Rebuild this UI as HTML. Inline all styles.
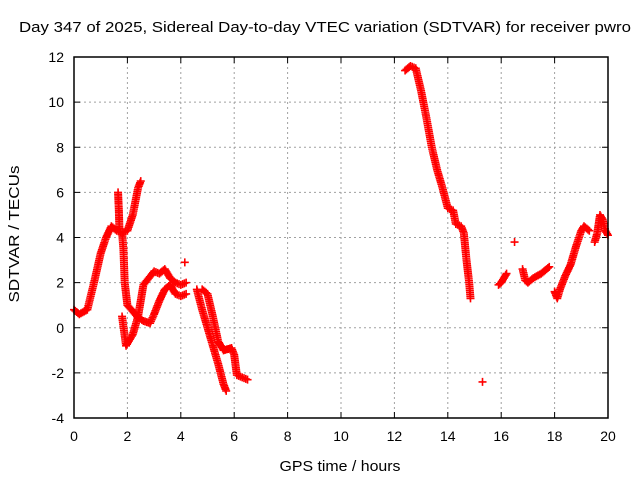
<!DOCTYPE html>
<html><head><meta charset="utf-8"><style>
body{margin:0;background:#fff;}
svg{display:block;font-family:"Liberation Sans",sans-serif;}
</style></head><body>
<svg id="chart" width="640" height="480">
<text x="325" y="32" text-anchor="middle" font-size="15" textLength="612" lengthAdjust="spacingAndGlyphs">Day 347 of 2025, Sidereal Day-to-day VTEC variation (SDTVAR) for receiver pwro</text>
<text x="340" y="471" text-anchor="middle" font-size="15" textLength="121" lengthAdjust="spacingAndGlyphs">GPS time / hours</text>
<text transform="translate(19,234) rotate(-90)" text-anchor="middle" font-size="15" textLength="137" lengthAdjust="spacingAndGlyphs">SDTVAR / TECUs</text>
<g id="grid"></g><g id="marks"></g>
<rect x="74" y="57" width="534" height="361" fill="none" stroke="#000" stroke-width="1.5"/>
</svg>
<script>
const xTicks=[0,2,4,6,8,10,12,14,16,18,20];
const yTicks=[-4,-2,0,2,4,6,8,10,12];
const s1x=[0,0.2,0.5,0.75,1.0,1.2,1.4,1.6,1.8,2.0,2.2,2.4,2.5];
const s1y=[0.8,0.6,0.8,2.0,3.3,4.0,4.5,4.3,4.2,4.3,5.0,6.2,6.5];
const s2x=[1.65,1.68,1.7];
const s2y=[6.0,5.2,4.4];
const s3x=[1.8,1.85,1.9,2.0,2.15,2.36,2.6,2.85,3.0,3.2,3.4,3.6,3.8,4.0,4.2];
const s3y=[4.2,3.5,2.0,1.0,0.8,0.5,0.3,0.2,0.6,1.2,1.7,1.9,1.5,1.4,1.5];
const s4x=[1.8,1.95,2.2,2.4,2.6,2.8,3.0,3.2,3.4,3.6,3.8,4.0,4.2];
const s4y=[0.5,-0.8,-0.3,0.5,1.9,2.2,2.5,2.4,2.6,2.2,2.0,1.9,2.0];
const s5x=[4.15];const s5y=[2.9];
const s6x=[4.6,4.8,5.0,5.2,5.4,5.6,5.7];
const s6y=[1.7,0.8,0.0,-0.8,-1.6,-2.5,-2.8];
const s7x=[4.8,5.0,5.2,5.4,5.6,5.9,6.0,6.1,6.3,6.5];
const s7y=[1.7,1.5,0.5,-0.6,-1.0,-0.9,-1.2,-2.1,-2.2,-2.3];
const s8x=[12.4,12.6,12.8,13.0,13.2,13.4,13.6,13.8,14.0,14.2,14.3,14.5,14.6,14.7,14.8,14.85];
const s8y=[11.4,11.6,11.5,10.5,9.3,8.0,7.0,6.2,5.3,5.2,4.6,4.5,4.2,3.0,2.0,1.3];
const s9x=[15.3];const s9y=[-2.4];
const s10x=[15.9,16.0,16.2];const s10y=[1.9,2.0,2.4];
const s11x=[16.5];const s11y=[3.8];
const s12x=[16.8,16.9,17.0,17.2,17.5,17.8];const s12y=[2.6,2.1,2.0,2.2,2.4,2.7];
const s13x=[18.0,18.1,18.2,18.4,18.6,18.8,19.0,19.1,19.3];const s13y=[1.6,1.3,1.7,2.3,2.8,3.6,4.3,4.5,4.3];
const s14x=[19.5,19.6,19.7,19.8,19.9,20.0];const s14y=[3.8,4.2,5.0,4.8,4.3,4.1];
const series=[[s1x,s1y],[s2x,s2y],[s3x,s3y],[s4x,s4y],[s5x,s5y],[s6x,s6y],[s7x,s7y],[s8x,s8y],[s9x,s9y],[s10x,s10y],[s11x,s11y],[s12x,s12y],[s13x,s13y],[s14x,s14y]];
const X=h=>74+h*534/20, Y=v=>418-(v+4)*361/16;
const NS="http://www.w3.org/2000/svg";
const g=document.getElementById('grid'), m=document.getElementById('marks');
function el(t,a,p){const e=document.createElementNS(NS,t);for(const k in a)e.setAttribute(k,a[k]);p.appendChild(e);return e;}
xTicks.forEach(t=>{const x=X(t);
 if(t>0&&t<20){const l=el('line',{x1:x,x2:x,y1:57,y2:418,stroke:'#a0a0a0','stroke-dasharray':'2,3'},g);
 
 }
 el('line',{x1:x,x2:x,y1:418,y2:412,stroke:'#000'},g);el('line',{x1:x,x2:x,y1:57,y2:63,stroke:'#000'},g);
 const tx=el('text',{x:x,y:441,'text-anchor':'middle','font-size':'14'},g);tx.textContent=t;
 
 });
yTicks.forEach(t=>{const y=Y(t);
 if(t>-4&&t<12){const l=el('line',{x1:74,x2:608,y1:y,y2:y,stroke:'#a0a0a0','stroke-dasharray':'2,3'},g);
 
 }
 el('line',{x1:74,x2:80,y1:y,y2:y,stroke:'#000'},g);el('line',{x1:608,x2:602,y1:y,y2:y,stroke:'#000'},g);
 const tx=el('text',{x:64,y:y+5,'text-anchor':'end','font-size':'14'},g);tx.textContent=t;
 
 });
function plus(x,y){return `M${x-4},${y}h8M${x},${y-4}v8`;}
series.forEach((s,i)=>{const [xs,ys]=s;let d='';
 for(let k=0;k<xs.length;k++){const x=X(xs[k]),y=Y(ys[k]);d+=plus(x,y);
  if(k+1<xs.length){const x2=X(xs[k+1]),y2=Y(ys[k+1]);const n=Math.max(1,Math.ceil(Math.hypot(x2-x,y2-y)/2));
   for(let j=1;j<n;j++)d+=plus(x+(x2-x)*j/n,y+(y2-y)*j/n);}}
 const p=el('path',{d:d,stroke:'#ff0000','stroke-width':'1.6',fill:'none'},m);
 
 });
</script>
</body></html>
